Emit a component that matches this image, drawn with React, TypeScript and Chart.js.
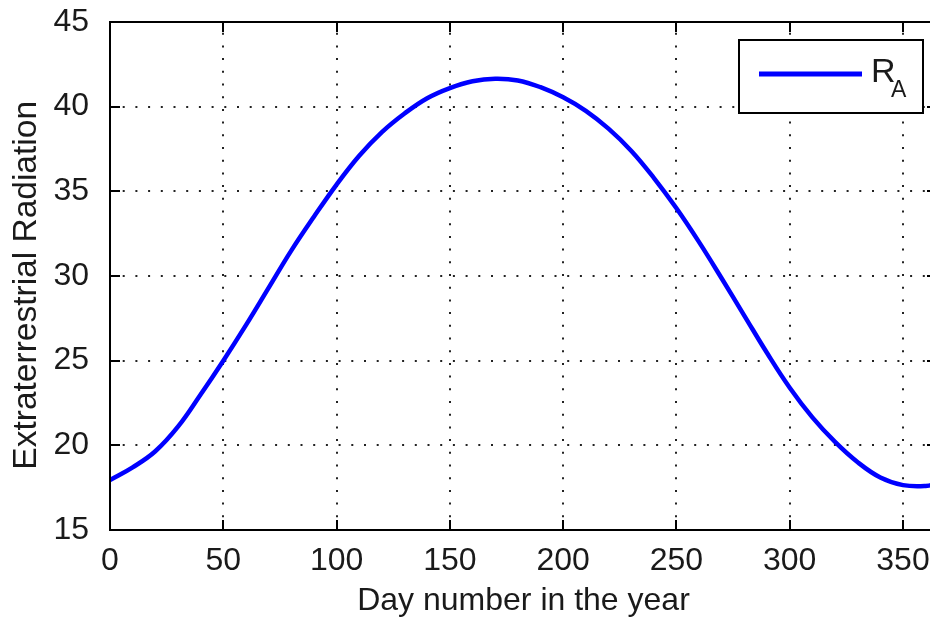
import React, { useEffect, useRef } from "react";
import { Chart, registerables } from "chart.js";

Chart.register(...registerables);

const dayNumbers = [0, 10, 20, 30, 40, 50, 60, 70, 80, 90, 100, 110, 120, 130, 140, 150, 160, 170, 180, 190, 200, 210, 220, 230, 240, 250, 260, 270, 280, 290, 300, 310, 320, 330, 340, 350, 360, 365];
const radiationValues = [17.95, 18.7, 19.65, 21.1, 23.0, 25.0, 27.1, 29.3, 31.5, 33.5, 35.4, 37.1, 38.5, 39.6, 40.5, 41.1, 41.5, 41.65, 41.55, 41.15, 40.55, 39.75, 38.7, 37.4, 35.8, 34.0, 32.0, 29.85, 27.65, 25.45, 23.4, 21.65, 20.2, 19.0, 18.1, 17.65, 17.6, 17.75];
const xTickValues = [0, 50, 100, 150, 200, 250, 300, 350];
const yTickValues = [15, 20, 25, 30, 35, 40, 45];
const xTitle = "Day number in the year";
const yTitle = "Extraterrestrial Radiation";
const legendMain = "R";
const legendSub = "A";

const FONT = '"Liberation Sans", Arial, sans-serif';
const TEXT_COLOR = "#1a1a1a";
const LINE_COLOR = "#0000ff";

export default function App() {
  const ref = useRef<HTMLCanvasElement>(null);

  useEffect(() => {
    const canvas = ref.current;
    if (!canvas) return;

    const matlabPlugin = {
      id: "matlabFrame",
      beforeDatasetsDraw(chart: any) {
        const { ctx, chartArea: a, scales } = chart;
        const xs = scales.x;
        const ys = scales.y;
        ctx.save();
        ctx.strokeStyle = "#222";
        ctx.lineWidth = 2;
        ctx.setLineDash([2, 10.7]);
        xTickValues.forEach((v) => {
          const px = Math.round(xs.getPixelForValue(v));
          if (px <= a.left + 2) return;
          ctx.beginPath();
          ctx.moveTo(px, a.bottom);
          ctx.lineTo(px, a.top);
          ctx.stroke();
        });
        yTickValues.forEach((v) => {
          const py = Math.round(ys.getPixelForValue(v));
          if (py >= a.bottom - 2 || py <= a.top + 2) return;
          ctx.beginPath();
          ctx.moveTo(a.left, py);
          ctx.lineTo(a.right, py);
          ctx.stroke();
        });
        ctx.restore();
      },
      afterDatasetsDraw(chart: any) {
        const { ctx, chartArea: a, scales } = chart;
        const xs = scales.x;
        const ys = scales.y;
        const L = Math.round(a.left);
        const R = Math.round(a.right);
        const T = Math.round(a.top);
        const B = Math.round(a.bottom);
        ctx.save();
        ctx.setLineDash([]);
        ctx.strokeStyle = "#000";
        ctx.lineWidth = 2;
        const tl = 10;
        xTickValues.forEach((v) => {
          const px = Math.round(xs.getPixelForValue(v));
          if (px <= L + 2) return;
          ctx.beginPath();
          ctx.moveTo(px, B);
          ctx.lineTo(px, B - tl);
          ctx.moveTo(px, T);
          ctx.lineTo(px, T + tl);
          ctx.stroke();
        });
        yTickValues.forEach((v) => {
          const py = Math.round(ys.getPixelForValue(v));
          if (py >= B - 2 || py <= T + 2) return;
          ctx.beginPath();
          ctx.moveTo(L, py);
          ctx.lineTo(L + tl, py);
          ctx.moveTo(R, py);
          ctx.lineTo(R - tl, py);
          ctx.stroke();
        });
        ctx.beginPath();
        ctx.rect(L, T, R - L, B - T);
        ctx.stroke();

        // legend
        const bx = 739, by = 40, bw = 184, bh = 73;
        ctx.fillStyle = "#fff";
        ctx.fillRect(bx, by, bw, bh);
        ctx.strokeRect(bx, by, bw, bh);
        ctx.strokeStyle = LINE_COLOR;
        ctx.lineWidth = 5;
        ctx.beginPath();
        ctx.moveTo(759, 74);
        ctx.lineTo(862, 74);
        ctx.stroke();
        ctx.fillStyle = TEXT_COLOR;
        ctx.textAlign = "left";
        ctx.textBaseline = "alphabetic";
        ctx.font = `34px ${FONT}`;
        ctx.fillText(legendMain, 871, 82);
        ctx.font = `23px ${FONT}`;
        ctx.fillText(legendSub, 891, 97);
        ctx.restore();
      },
    };

    const chart = new Chart(canvas, {
      type: "line",
      data: {
        datasets: [
          {
            label: legendMain + legendSub,
            data: dayNumbers.map((d, i) => ({ x: d, y: radiationValues[i] })),
            borderColor: LINE_COLOR,
            borderWidth: 4.5,
            pointRadius: 0,
            fill: false,
            tension: 0.4,
          },
        ],
      },
      options: {
        animation: false,
        responsive: false,
        devicePixelRatio: 1,
        layout: { padding: { top: 22, right: 13, left: 0, bottom: 0 } },
        plugins: {
          legend: { display: false },
          tooltip: { enabled: false },
        },
        scales: {
          x: {
            type: "linear",
            min: 0,
            max: 365,
            grid: { display: false },
            border: { display: false },
            afterBuildTicks: (s: any) => {
              s.ticks = xTickValues.map((v) => ({ value: v }));
            },
            afterFit: (s: any) => {
              s.height = 93;
              s.paddingLeft = 0;
              s.paddingRight = 0;
            },
            ticks: {
              font: { family: FONT, size: 32 },
              color: TEXT_COLOR,
              padding: 4,
              maxRotation: 0,
              autoSkip: false,
            },
            title: {
              display: true,
              text: xTitle,
              font: { family: FONT, size: 32 },
              color: TEXT_COLOR,
              padding: { top: 0, bottom: 3 },
            },
          },
          y: {
            type: "linear",
            min: 15,
            max: 45,
            grid: { display: false },
            border: { display: false },
            afterBuildTicks: (s: any) => {
              s.ticks = yTickValues.map((v) => ({ value: v }));
            },
            afterFit: (s: any) => {
              s.width = 110;
              s.paddingTop = 0;
              s.paddingBottom = 0;
            },
            ticks: {
              font: { family: FONT, size: 32 },
              color: TEXT_COLOR,
              padding: 13,
              autoSkip: false,
            },
            title: {
              display: true,
              text: yTitle + "  ",
              font: { family: FONT, size: 33.5 },
              color: TEXT_COLOR,
              padding: { top: 7, bottom: 0 },
            },
          },
        },
      },
      plugins: [matlabPlugin],
    });

    return () => chart.destroy();
  }, []);

  return (
    <div
      style={{
        position: "fixed",
        left: 0,
        top: 0,
        width: 930,
        height: 623,
        overflow: "hidden",
        background: "#fff",
      }}
    >
      <canvas ref={ref} width={950} height={623} style={{ display: "block" }} />
    </div>
  );
}
